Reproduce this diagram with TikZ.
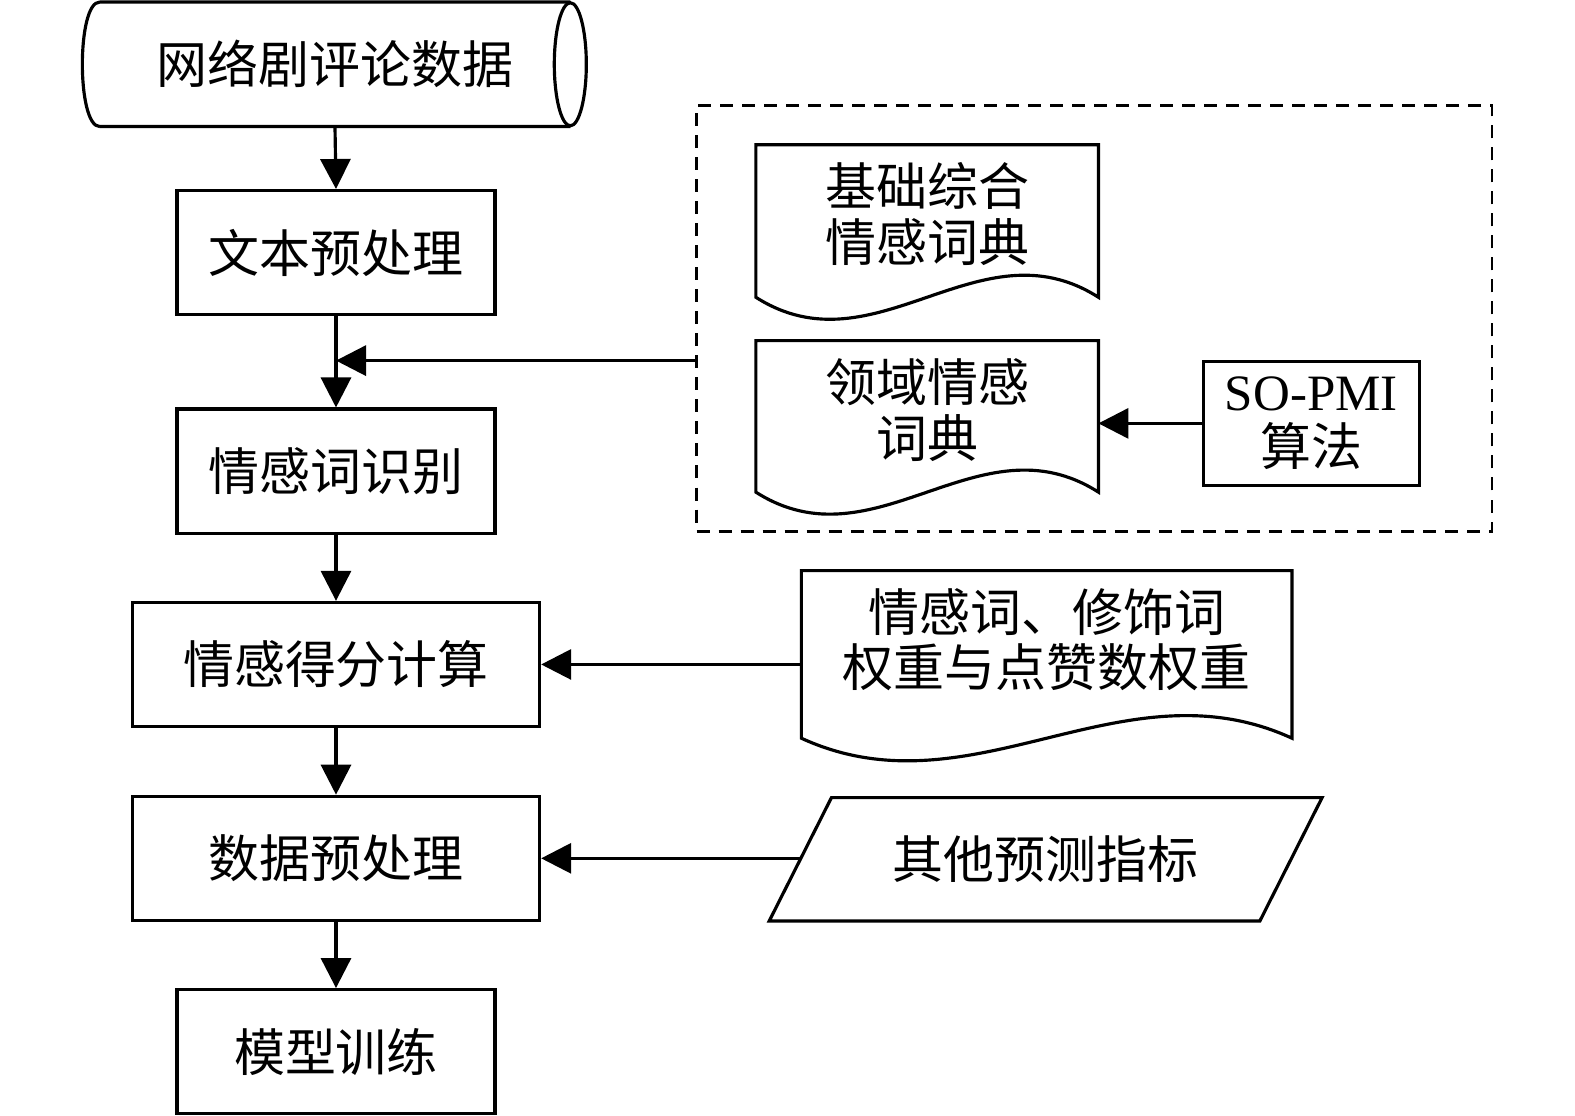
\documentclass[tikz,border=0pt]{standalone}
\usepackage{fontspec}
\setmainfont{Liberation Serif}
\newfontfamily\cjk{Noto Sans CJK SC}
\usetikzlibrary{arrows.meta,positioning,calc}

\begin{document}
\begin{tikzpicture}[x=0.010045cm,y=-0.010045cm,
    every node/.style={font=\cjk\fontsize{14.5}{15.8}\selectfont},
    line/.style={line width=0.9pt},
    box/.style={draw,line width=0.9pt,minimum width=3.18cm,minimum height=1.24cm,inner sep=0pt},
    wide/.style={box,minimum width=4.07cm},
    doc/.style={minimum width=3.41cm,minimum height=1.37cm,align=center,inner sep=0pt},
    arr/.style={-{Triangle[length=0.3cm,width=0.3cm]},line width=0.9pt},
  ]
  \useasboundingbox (0,0) rectangle (1568,1111);

  % main flow
  \node[minimum width=4.69cm,minimum height=1.23cm,inner sep=0pt] (src) at (333.5,64) {网络剧评论数据};
  \draw[line] (src.north west) -- (src.north east)
    (src.south west) -- (src.south east)
    (src.north west) .. controls +(-23,0) and +(-23,0) .. (src.south west);
  \draw[line] (src.east) ellipse [x radius=0.16cm,y radius=0.615cm];

  \node[box] (prep) at (334.5,251.5) {文本预处理};
  \node[box] (recog) at (334.5,469) {情感词识别};
  \node[wide] (score) at (334.5,661.5) {情感得分计算};
  \node[wide] (dprep) at (334.5,854.5) {数据预处理};
  \node[box] (train) at (334.5,1047) {模型训练};

  % lexicons
  \node[draw,dash pattern=on 0.13cm off 0.09cm,line width=0.7pt,
        minimum width=7.95cm,minimum height=4.26cm] (lex) at (1089.5,317) {};

  \node[doc] (base) at (923,213) {基础综合\\情感词典};
  \draw[line] ($(base.south west)+(0,14)$) -- (base.north west) -- (base.north east)
    -- ($(base.south east)+(0,14)$) .. controls +(-119,-76) and +(119,76) .. ($(base.south west)+(0,14)$) -- cycle;

  \node[doc] (domain) at (923,408) {领域情感\\词典};
  \draw[line] ($(domain.south west)+(0,13)$) -- (domain.north west) -- (domain.north east)
    -- ($(domain.south east)+(0,13)$) .. controls +(-119,-76) and +(119,76) .. ($(domain.south west)+(0,13)$) -- cycle;

  \node[box,minimum width=2.16cm,align=center,font=\fontsize{14.5}{15.8}\selectfont] (pmi) at (1305.5,421.5) {SO-PMI\\\cjk 算法};

  % weights and other indicators
  \node[doc,minimum width=4.89cm] (weight) at (1042,637) {情感词、修饰词\\权重与点赞数权重};
  \draw[line] ($(weight.south west)+(0,29)$) -- (weight.north west) -- (weight.north east)
    -- ($(weight.south east)+(0,29)$) .. controls +(-170,-78) and +(170,78) .. ($(weight.south west)+(0,29)$) -- cycle;

  \node[minimum width=4.89cm,minimum height=1.22cm,inner sep=0pt] (other) at (1041,855.5) {其他预测指标};
  \draw[line] ($(other.north west)+(31,0)$) -- ($(other.north east)+(31,0)$)
    -- ($(other.south east)+(-31,0)$) -- ($(other.south west)+(-31,0)$) -- cycle;

  % connectors
  \draw[arr] (src.south) -- (prep.north);
  \draw[arr] (prep.south) -- (recog.north);
  \draw[arr] (recog.south) -- (score.north);
  \draw[arr] (score.south) -- (dprep.north);
  \draw[arr] (dprep.south) -- (train.north);
  \coordinate (join) at (334.5,359);
  \draw[arr] (lex.west |- join) -- (join);
  \draw[arr] (pmi.west) -- (domain.east |- pmi.west);
  \draw[arr] (weight.west |- score.east) -- (score.east);
  \draw[arr] (other.west |- dprep.east) -- (dprep.east);
\end{tikzpicture}
\end{document}
